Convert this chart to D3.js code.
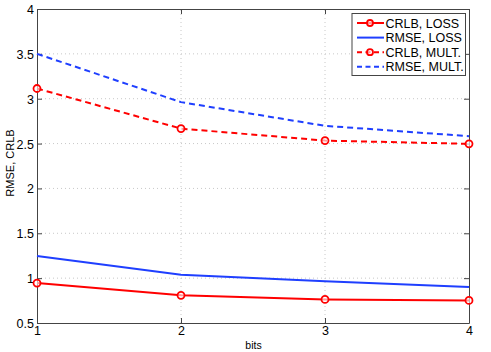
<!DOCTYPE html>
<html><head><meta charset="utf-8">
<script src="https://cdn.jsdelivr.net/npm/d3@7"></script>
<style>body{margin:0;background:#fff}svg{display:block}text{font-family:"Liberation Sans",Arial,sans-serif}</style>
</head><body><svg id="c" width="491" height="352"></svg>
<script>
const bits = [1, 2, 3, 4];
const crlbLoss = [0.945, 0.808, 0.763, 0.752];
const rmseLoss = [1.247, 1.038, 0.964, 0.900];
const crlbMult = [3.114, 2.667, 2.533, 2.497];
const rmseMult = [3.500, 2.962, 2.698, 2.582];
const xTicks = [1, 2, 3, 4];
const yTicks = [0.5, 1, 1.5, 2, 2.5, 3, 3.5, 4];
const seriesNames = ["CRLB, LOSS", "RMSE, LOSS", "CRLB, MULT.", "RMSE, MULT."];

const W = 491, H = 352;
const m = {l: 37, r: 22, t: 9, b: 29};
const svg = d3.select("#c");
const x = d3.scaleLinear().domain([1, 4]).range([m.l, W - m.r]);
const y = d3.scaleLinear().domain([0.5, 4]).range([H - m.b, m.t]);
const axisCol = "#444";

// grid
const g = svg.append("g");
g.selectAll("line.gx").data(xTicks.slice(1, -1)).join("line")
  .attr("x1", d => x(d)).attr("x2", d => x(d)).attr("y1", y(0.5)).attr("y2", y(4))
  .attr("stroke", "#c8c8c8").attr("stroke-width", 1).attr("stroke-dasharray", "1,3");
g.selectAll("line.gy").data(yTicks.slice(1, -1)).join("line")
  .attr("y1", d => y(d)).attr("y2", d => y(d)).attr("x1", x(1)).attr("x2", x(4))
  .attr("stroke", "#c8c8c8").attr("stroke-width", 1).attr("stroke-dasharray", "1,3");

// axes (MATLAB box with inward ticks)
const ax = svg.append("g").attr("transform", `translate(0,${y(0.5)})`)
  .call(d3.axisBottom(x).tickValues(xTicks).tickFormat(d3.format("d")).tickSizeInner(-5).tickSizeOuter(0).tickPadding(3));
const axT = svg.append("g").attr("transform", `translate(0,${y(4)})`)
  .call(d3.axisTop(x).tickValues(xTicks).tickFormat("").tickSizeInner(-5).tickSizeOuter(0));
const ay = svg.append("g").attr("transform", `translate(${x(1)},0)`)
  .call(d3.axisLeft(y).tickValues(yTicks).tickFormat(d => String(d)).tickSizeInner(-5).tickSizeOuter(0).tickPadding(3));
const ayR = svg.append("g").attr("transform", `translate(${x(4)},0)`)
  .call(d3.axisRight(y).tickValues(yTicks).tickFormat("").tickSizeInner(-5).tickSizeOuter(0));
[ax, axT, ay, ayR].forEach(a => {
  a.select(".domain").attr("stroke", axisCol);
  a.selectAll(".tick line").attr("stroke", axisCol);
  a.selectAll("text").attr("fill", "#000").style("font-size", "12.5px").style("font-family", '"Liberation Sans",Arial,sans-serif');
});
ay.selectAll("text").attr("dy", "0.36em");
ax.selectAll("text").attr("dy", "0.71em");

// axis labels
svg.append("text").attr("x", (x(1) + x(4)) / 2 + 0.5).attr("y", 349).attr("text-anchor", "middle")
  .style("font-size", "10.5px").text("bits");
svg.append("text").attr("transform", `translate(14,163) rotate(-90)`).attr("text-anchor", "middle")
  .style("font-size", "11px").text("RMSE, CRLB");

// series
const series = [
  {name: seriesNames[0], v: crlbLoss, color: "#ff0000", dash: null, marker: true},
  {name: seriesNames[1], v: rmseLoss, color: "#1f3fff", dash: null, marker: false},
  {name: seriesNames[2], v: crlbMult, color: "#ff0000", dash: "6,4", marker: true},
  {name: seriesNames[3], v: rmseMult, color: "#1f3fff", dash: "6,4", marker: false}
];
const line = d3.line().x((d, i) => x(bits[i])).y(d => y(d));
series.forEach(s => {
  svg.append("path").attr("d", line(s.v)).attr("fill", "none").attr("stroke", s.color)
    .attr("stroke-width", 2).attr("stroke-dasharray", s.dash);
  if (s.marker) {
    svg.selectAll(null).data(s.v).join("circle")
      .attr("cx", (d, i) => x(bits[i])).attr("cy", d => y(d)).attr("r", 3.5)
      .attr("fill", "#fff").attr("fill-opacity", 0.6).attr("stroke", s.color).attr("stroke-width", 1.8);
  }
});

// legend
const lg = svg.append("g");
lg.append("rect").attr("x", 352).attr("y", 13.5).attr("width", 113.5).attr("height", 62)
  .attr("fill", "#fff").attr("stroke", axisCol).attr("stroke-width", 1);
series.forEach((s, i) => {
  const yy = 23 + i * 14.6;
  lg.append("line").attr("x1", 357).attr("x2", 384).attr("y1", yy).attr("y2", yy)
    .attr("stroke", s.color).attr("stroke-width", 2).attr("stroke-dasharray", s.dash ? "5,3.5" : null);
  if (s.marker) lg.append("circle").attr("cx", 370).attr("cy", yy).attr("r", 3)
    .attr("fill", "#fff").attr("fill-opacity", 0.6).attr("stroke", s.color).attr("stroke-width", 1.8);
  lg.append("text").attr("x", 385.5).attr("y", yy).attr("dy", "0.36em").style("font-size", "12.5px").text(s.name);
});
</script></body></html>
